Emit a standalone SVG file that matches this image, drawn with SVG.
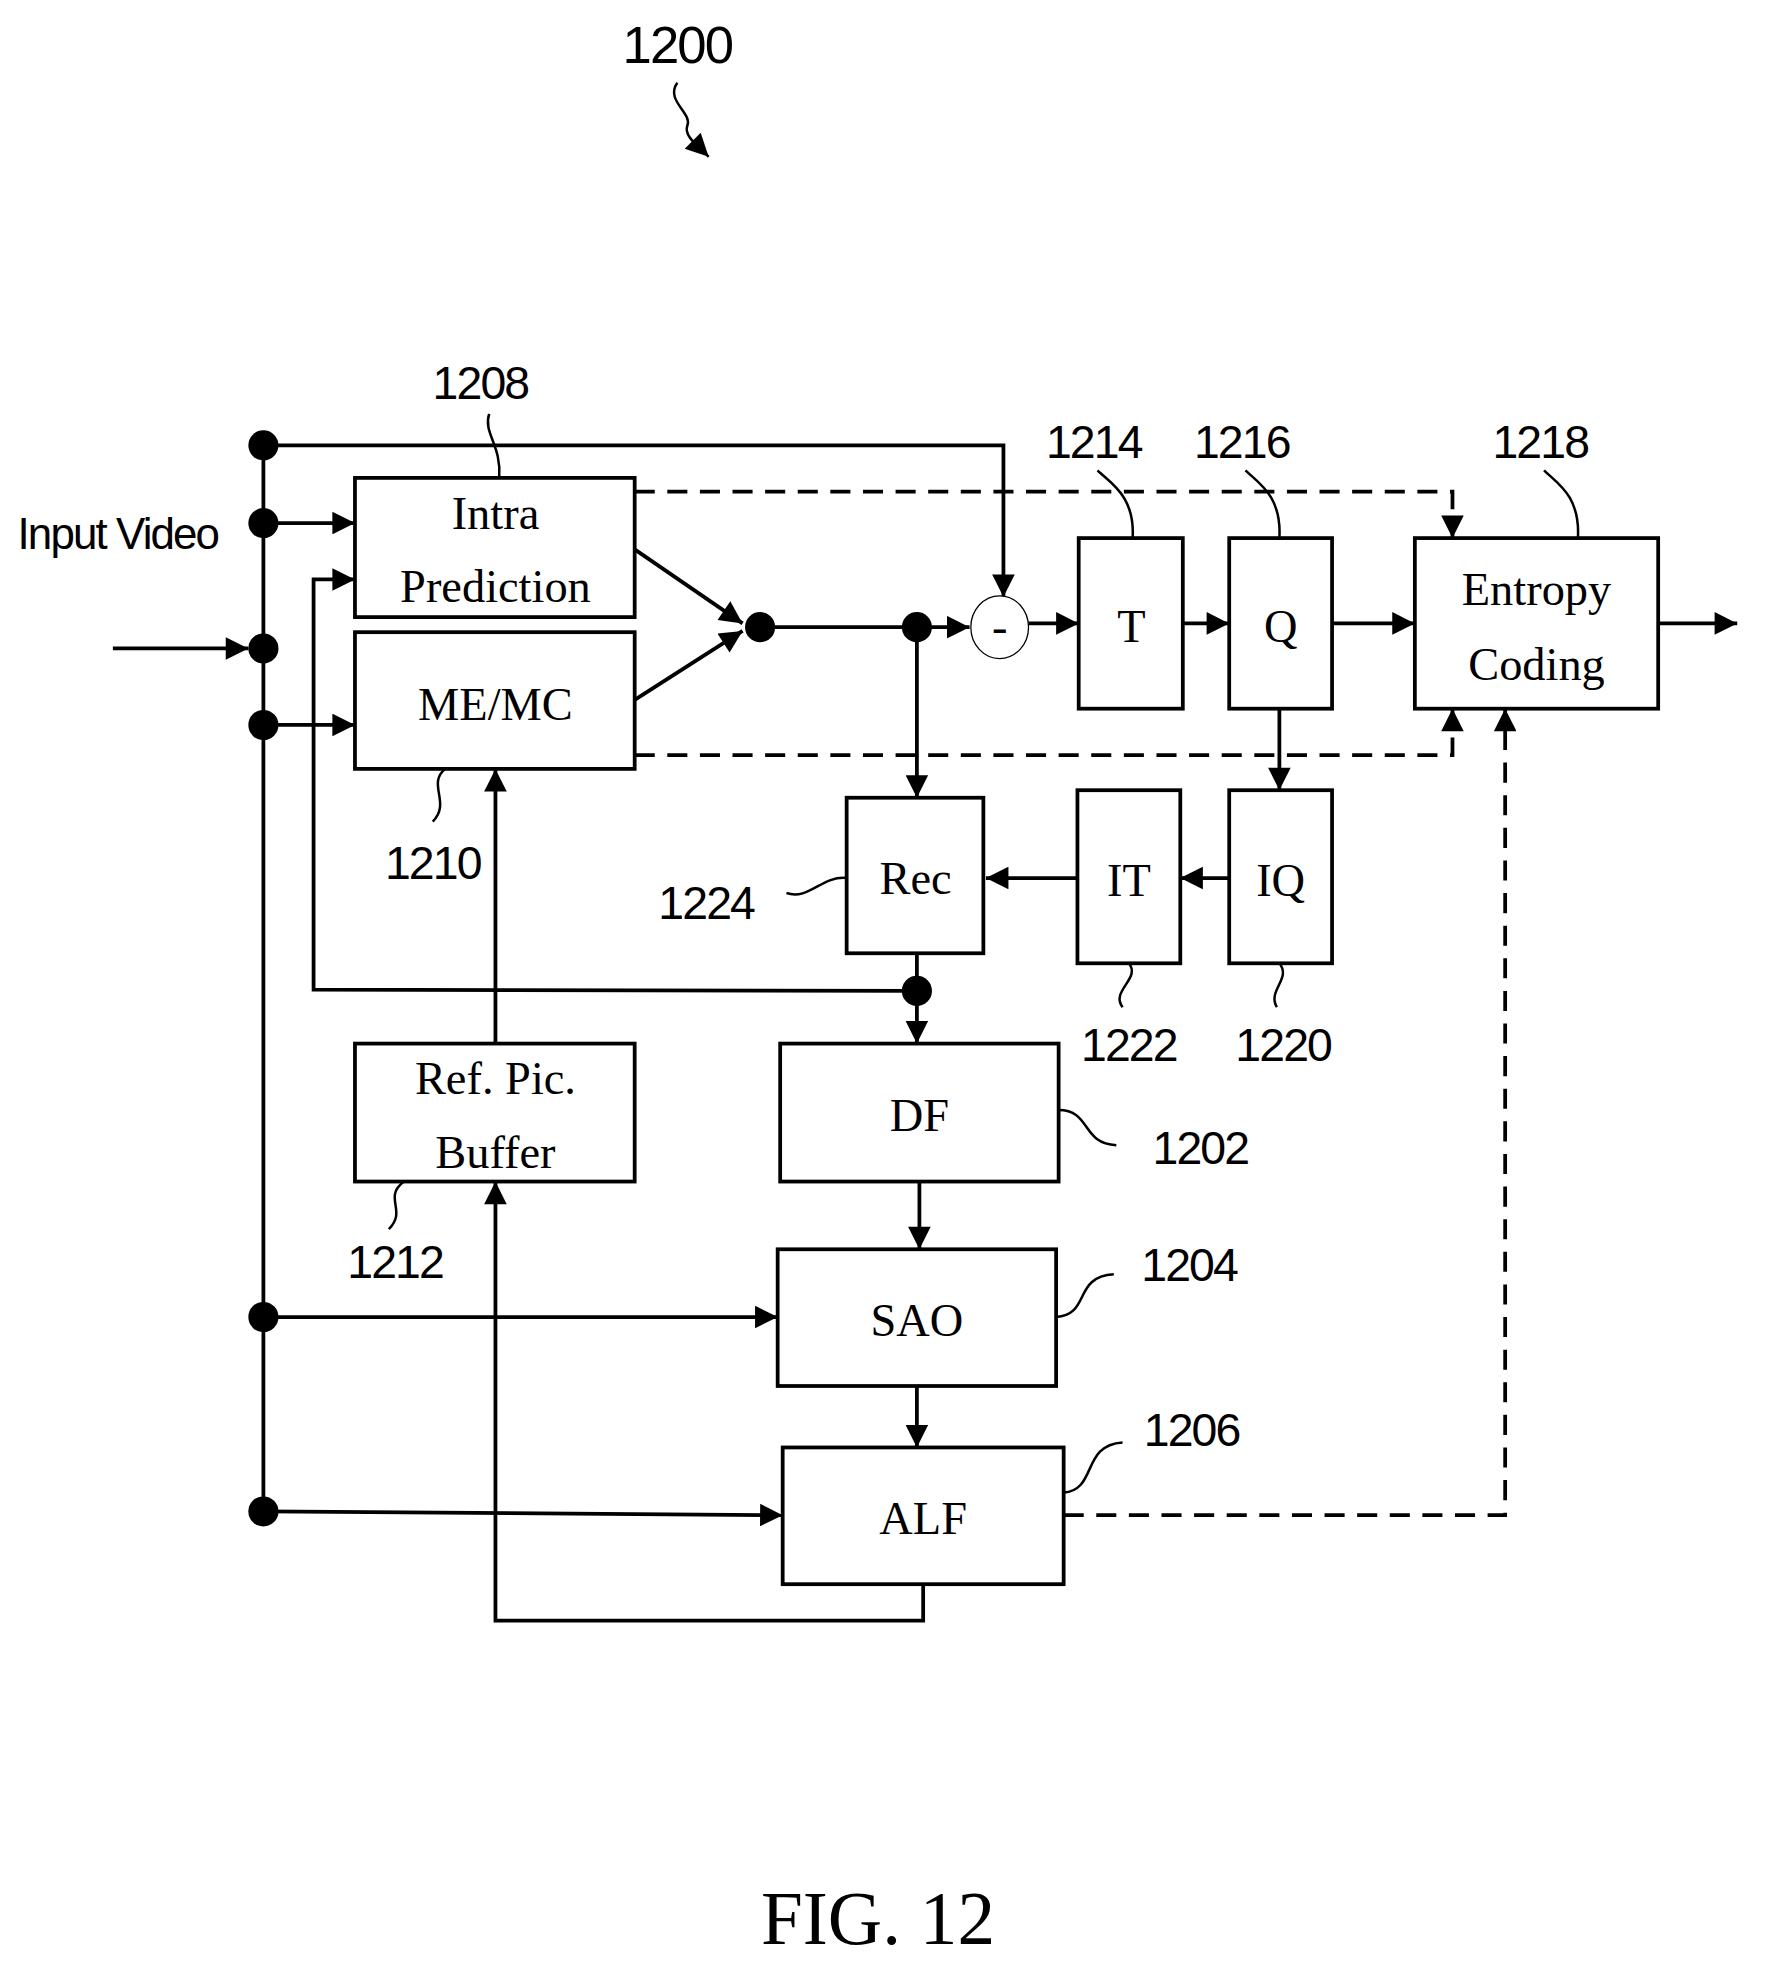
<svg xmlns="http://www.w3.org/2000/svg" width="1771" height="1981" viewBox="0 0 1771 1981">
<defs>
<style>
.b{fill:#fff;stroke:#000;stroke-width:3}
.l{fill:none;stroke:#000;stroke-width:3}
.d{fill:none;stroke:#000;stroke-width:3;stroke-dasharray:16,10}
.s{fill:none;stroke:#000;stroke-width:2}
.t{font-family:"Liberation Serif",serif;font-size:37px;text-anchor:middle}
.n{font-family:"Liberation Sans",Arial,sans-serif;font-size:37px;text-anchor:middle;letter-spacing:-1.5px}
</style>
<marker id="a" viewBox="0 0 10 10" refX="10" refY="5" markerWidth="22" markerHeight="18" markerUnits="userSpaceOnUse" orient="auto"><path d="M0,0L10,5L0,10z"/></marker>
</defs>
<rect width="1771" height="1981" fill="#fff"/>
<g transform="scale(1.2543)">
<text class="n" x="540" y="50" style="font-size:42px">1200</text>
<path class="s" d="M540,66 C530,80 552,90 548,100 C545,108 555,115 565,125" marker-end="url(#a)"/>
<g id="connectors">
<path class="l" d="M210,355V1205"/>
<path class="l" d="M210,355H800V476" marker-end="url(#a)"/>
<path class="l" d="M210,417H283" marker-end="url(#a)"/>
<path class="l" d="M90,517H198" marker-end="url(#a)"/>
<path class="l" d="M210,578H283" marker-end="url(#a)"/>
<path class="l" d="M506,438L592,497" marker-end="url(#a)"/>
<path class="l" d="M506,558L592,503" marker-end="url(#a)"/>
<path class="l" d="M606,500H731"/>
<path class="l" d="M731,500H773" marker-end="url(#a)"/>
<path class="l" d="M820,497H860" marker-end="url(#a)"/>
<path class="l" d="M943,497H980" marker-end="url(#a)"/>
<path class="l" d="M1062,497H1128" marker-end="url(#a)"/>
<path class="l" d="M1322,497H1385" marker-end="url(#a)"/>
<path class="d" d="M506,392H1158V429" marker-end="url(#a)"/>
<path class="d" d="M506,602H1158V565" marker-end="url(#a)"/>
<path class="l" d="M1020,565V630" marker-end="url(#a)"/>
<path class="l" d="M980,700H941" marker-end="url(#a)"/>
<path class="l" d="M859,700H786" marker-end="url(#a)"/>
<path class="l" d="M731,500V636" marker-end="url(#a)"/>
<path class="l" d="M731,760V832" marker-end="url(#a)"/>
<path class="l" d="M731,790L250,789V462H283" marker-end="url(#a)"/>
<path class="l" d="M733,942V996" marker-end="url(#a)"/>
<path class="l" d="M731,1105V1154" marker-end="url(#a)"/>
<path class="l" d="M210,1050H620" marker-end="url(#a)"/>
<path class="l" d="M210,1205L624,1208" marker-end="url(#a)"/>
<path class="l" d="M736,1263V1292H395V942" marker-end="url(#a)"/>
<path class="l" d="M395,832V613" marker-end="url(#a)"/>
<path class="d" d="M848,1208H1200V565" marker-end="url(#a)"/>
<circle cx="210" cy="355" r="12"/><circle cx="210" cy="417" r="12"/><circle cx="210" cy="517" r="12"/><circle cx="210" cy="578" r="12"/><circle cx="210" cy="1050" r="12"/><circle cx="210" cy="1205" r="12"/>
<circle cx="606" cy="500" r="12"/><circle cx="731" cy="500" r="12"/><circle cx="731" cy="790" r="12"/>
</g>
<text class="n" x="14" y="438" style="text-anchor:start;font-size:35px">Input Video</text>
<g id="sub"><ellipse cx="797" cy="500" rx="23" ry="25" fill="#fff" stroke="#000" stroke-width="1"/><text class="t" x="797" y="512">-</text></g>
<g id="intra"><rect class="b" x="283" y="381" width="223" height="111"/><text class="t" x="395" y="422">Intra</text><text class="t" x="395" y="480">Prediction</text></g>
<g id="memc"><rect class="b" x="283" y="504" width="223" height="109"/><text class="t" x="395" y="574">ME/MC</text></g>
<g id="T"><rect class="b" x="860" y="429" width="83" height="136"/><text class="t" x="902" y="512">T</text></g>
<g id="Q"><rect class="b" x="980" y="429" width="82" height="136"/><text class="t" x="1021" y="512">Q</text></g>
<g id="ec"><rect class="b" x="1128" y="429" width="194" height="136"/><text class="t" x="1225" y="482">Entropy</text><text class="t" x="1225" y="542">Coding</text></g>
<g id="IQ"><rect class="b" x="980" y="630" width="82" height="138"/><text class="t" x="1021" y="714">IQ</text></g>
<g id="IT"><rect class="b" x="859" y="630" width="82" height="138"/><text class="t" x="900" y="714">IT</text></g>
<g id="rec"><rect class="b" x="675" y="636" width="109" height="124"/><text class="t" x="730" y="713">Rec</text></g>
<g id="df"><rect class="b" x="622" y="832" width="222" height="110"/><text class="t" x="733" y="902">DF</text></g>
<g id="sao"><rect class="b" x="620" y="996" width="222" height="109"/><text class="t" x="731" y="1065">SAO</text></g>
<g id="alf"><rect class="b" x="624" y="1154" width="224" height="109"/><text class="t" x="736" y="1223">ALF</text></g>
<g id="ref"><rect class="b" x="283" y="832" width="223" height="110"/><text class="t" x="395" y="872">Ref. Pic.</text><text class="t" x="395" y="931">Buffer</text></g>
<g id="labels">
<text class="n" x="383" y="318">1208</text><path class="s" d="M390,330C385,345 400,355 398,381"/>
<text class="n" x="872" y="365">1214</text><path class="s" d="M875,375C885,385 905,395 903,429"/>
<text class="n" x="990" y="365">1216</text><path class="s" d="M993,375C1003,385 1022,395 1020,429"/>
<text class="n" x="1228" y="365">1218</text><path class="s" d="M1231,375C1241,385 1260,395 1258,429"/>
<text class="n" x="345" y="701">1210</text><path class="s" d="M355,613C340,625 360,640 345,655"/>
<text class="n" x="563" y="733">1224</text><path class="s" d="M627,712C645,718 655,698 675,700"/>
<text class="n" x="900" y="846">1222</text><path class="s" d="M900,768C910,780 885,790 895,803"/>
<text class="n" x="1023" y="846">1220</text><path class="s" d="M1020,768C1030,780 1010,790 1018,803"/>
<text class="n" x="957" y="928">1202</text><path class="s" d="M844,885C870,885 862,912 890,913"/>
<text class="n" x="948" y="1021">1204</text><path class="s" d="M842,1050C870,1048 855,1018 888,1016"/>
<text class="n" x="950" y="1153">1206</text><path class="s" d="M848,1190C875,1188 862,1152 895,1150"/>
<text class="n" x="315" y="1019">1212</text><path class="s" d="M322,942C305,955 325,965 310,980"/>
</g>
<text class="t" x="700" y="1550" style="font-size:60px">FIG. 12</text>
</g>
</svg>
